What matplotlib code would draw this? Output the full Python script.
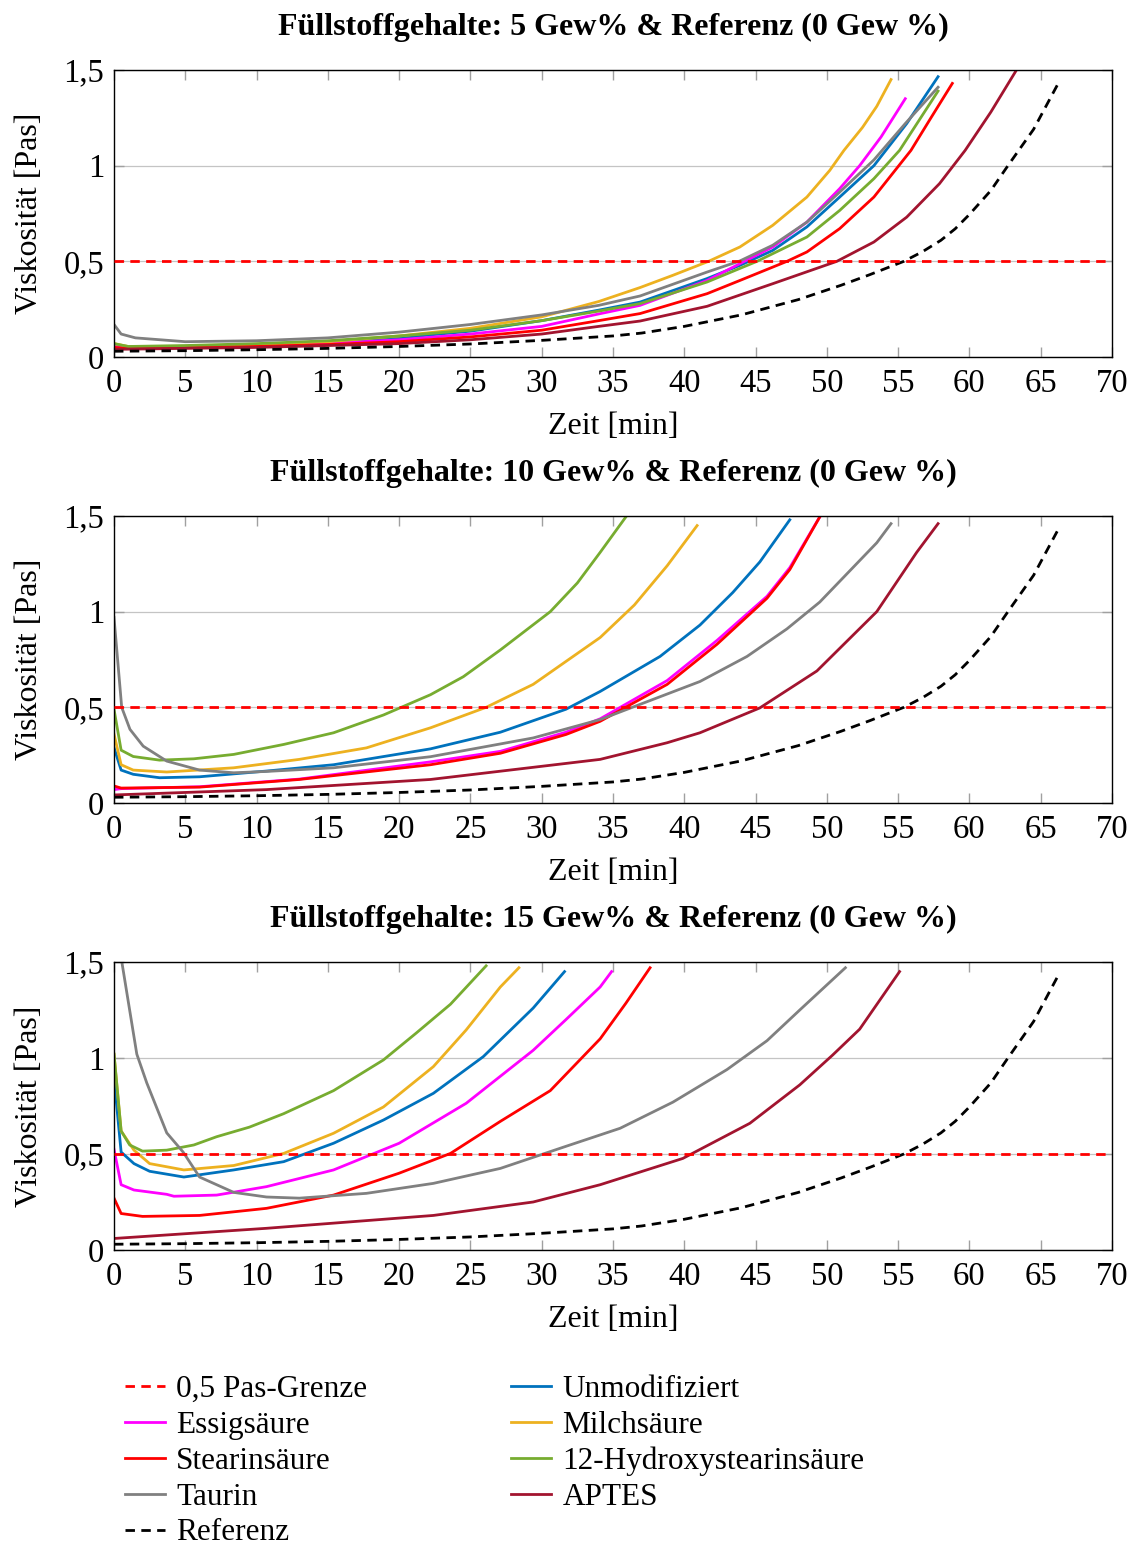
import matplotlib
matplotlib.use("Agg")
import matplotlib.pyplot as plt
from matplotlib.lines import Line2D

plt.rcParams['font.family'] = ['Liberation Serif', 'DejaVu Serif']

# ---- Data (Zeit [min], Viskosität [Pas]) ----
limit_value = 0.5

ref = [(0, 0.03), (5, 0.033), (10, 0.038), (15, 0.045), (20, 0.055), (25, 0.068),
       (30, 0.087), (35, 0.11), (37, 0.125), (40, 0.16), (42, 0.19), (44, 0.22),
       (46, 0.26), (48, 0.3), (51, 0.375), (53, 0.43), (55.4, 0.5), (56.7, 0.55),
       (58, 0.61), (59, 0.67), (60, 0.745), (61.5, 0.87), (62.7, 1.0), (64.5, 1.19),
       (66.3, 1.44)]

# 5 Gew%
p5_unmod = [(0, 0.06), (1, 0.05), (5, 0.055), (10, 0.065), (15, 0.075), (20, 0.1),
            (25, 0.135), (30, 0.19), (34, 0.245), (36.9, 0.287), (41.6, 0.41), (43.9, 0.479),
            (46.2, 0.557), (48.6, 0.68), (50.9, 0.836), (53.3, 1.0), (55.6, 1.22), (57.8, 1.465)]
p5_essig = [(0, 0.06), (1, 0.05), (5, 0.05), (10, 0.06), (15, 0.07), (20, 0.09),
            (25, 0.12), (30, 0.16), (34, 0.225), (36.9, 0.27), (41.6, 0.4), (43.9, 0.488),
            (46.2, 0.575), (48.6, 0.705), (50.9, 0.88), (52.3, 1.0), (53.8, 1.15), (55.5, 1.35)]
p5_milch = [(0, 0.07), (1, 0.055), (5, 0.055), (10, 0.065), (15, 0.08), (20, 0.11),
            (25, 0.15), (30, 0.21), (34, 0.29), (36.9, 0.363), (39.2, 0.427), (41.7, 0.5),
            (43.9, 0.575), (46.2, 0.688), (48.6, 0.836), (50.2, 0.975), (51.2, 1.08),
            (52.5, 1.2), (53.5, 1.31), (54.5, 1.45)]
p5_stearin = [(0, 0.05), (1, 0.045), (5, 0.05), (10, 0.055), (15, 0.065), (20, 0.08),
              (25, 0.105), (30, 0.14), (34, 0.19), (36.9, 0.227), (41.6, 0.331), (43.9, 0.4),
              (47.2, 0.5), (48.6, 0.549), (50.9, 0.671), (53.3, 0.836), (55.9, 1.08),
              (57.3, 1.25), (58.8, 1.43)]
p5_hydroxy = [(0, 0.07), (1, 0.055), (5, 0.06), (10, 0.07), (15, 0.085), (20, 0.11),
              (25, 0.14), (30, 0.19), (34, 0.24), (36.9, 0.279), (41.6, 0.392), (45.1, 0.5),
              (48.6, 0.627), (50.9, 0.766), (53.3, 0.932), (55.1, 1.08), (57.8, 1.39)]
p5_taurin = [(0, 0.17), (0.5, 0.12), (1.5, 0.1), (5, 0.08), (10, 0.085), (15, 0.1),
             (20, 0.13), (25, 0.17), (30, 0.22), (34, 0.27), (36.9, 0.319), (41.6, 0.444),
             (43.9, 0.502), (46.2, 0.584), (48.6, 0.705), (50.9, 0.862), (53.3, 1.03),
             (55.5, 1.22), (57.8, 1.41)]
p5_aptes = [(0, 0.04), (5, 0.045), (10, 0.05), (15, 0.06), (20, 0.07), (25, 0.09),
            (30, 0.12), (34, 0.16), (36.9, 0.188), (41.6, 0.265), (46.2, 0.383), (50.7, 0.5),
            (53.3, 0.601), (55.6, 0.731), (57.9, 0.906), (59.7, 1.08), (61.5, 1.28), (63.3, 1.5)]

# 10 Gew%
p10_unmod = [(0, 0.29), (0.5, 0.172), (1.35, 0.15), (3.2, 0.132), (6, 0.137), (10.7, 0.167),
             (15.4, 0.2), (22.2, 0.283), (27.1, 0.37), (31.7, 0.49), (34.1, 0.583),
             (38.3, 0.766), (41.1, 0.93), (43.4, 1.1), (45.3, 1.26), (47.4, 1.48)]
p10_essig = [(0, 0.07), (0.5, 0.075), (6, 0.085), (13, 0.125), (22.2, 0.215), (27.1, 0.27),
             (31.7, 0.37), (34.1, 0.44), (38.8, 0.64), (42.3, 0.85), (45.8, 1.08),
             (47.4, 1.23), (49.5, 1.495)]
p10_milch = [(0, 0.36), (0.5, 0.2), (1.35, 0.172), (3.7, 0.162), (8.4, 0.184), (13, 0.228),
             (17.7, 0.288), (22.2, 0.393), (26.1, 0.5), (29.4, 0.62), (34.1, 0.865),
             (36.5, 1.035), (38.8, 1.24), (40.9, 1.45)]
p10_stearin = [(0, 0.089), (0.5, 0.078), (6, 0.083), (13, 0.123), (22.2, 0.2), (27.1, 0.26),
               (31.7, 0.358), (34.1, 0.427), (38.8, 0.62), (42.3, 0.83), (45.8, 1.07),
               (47.4, 1.22), (49.5, 1.495)]
p10_hydroxy = [(0, 0.49), (0.5, 0.276), (1.35, 0.243), (3.2, 0.224), (5.6, 0.231), (8.4, 0.254),
               (11.9, 0.306), (15.4, 0.367), (18.9, 0.46), (22.2, 0.566), (24.5, 0.66),
               (27.1, 0.8), (30.6, 1.0), (32.5, 1.15), (34.1, 1.31), (35.9, 1.495)]
p10_taurin = [(0, 0.97), (0.54, 0.5), (1.12, 0.385), (2.05, 0.297), (3.7, 0.219), (6, 0.172),
              (8.4, 0.158), (10.7, 0.165), (15.4, 0.184), (22.2, 0.242), (29.4, 0.34),
              (34.1, 0.436), (41.1, 0.635), (44.4, 0.766), (47.2, 0.91), (49.5, 1.05),
              (53.5, 1.36), (54.5, 1.46)]
p10_aptes = [(0, 0.042), (10.7, 0.07), (22.2, 0.123), (34.1, 0.228), (38.8, 0.315),
             (41.1, 0.367), (45.3, 0.497), (49.3, 0.69), (53.5, 1.0), (56.3, 1.31), (57.8, 1.46)]

# 15 Gew%
p15_unmod = [(0, 0.9), (0.5, 0.51), (1.4, 0.45), (2.5, 0.41), (4.9, 0.38), (8.4, 0.417),
             (11.9, 0.46), (15.4, 0.556), (18.9, 0.677), (22.4, 0.816), (25.9, 1.007),
             (29.4, 1.26), (31.6, 1.45)]
p15_essig = [(0, 0.524), (0.5, 0.34), (1.4, 0.3125), (3.7, 0.29), (4.2, 0.28), (7.2, 0.286),
             (10.7, 0.33), (15.4, 0.417), (20, 0.556), (24.7, 0.764), (29.4, 1.04),
             (31.7, 1.2), (34.1, 1.37), (34.9, 1.45)]
p15_milch = [(0, 1.02), (0.5, 0.62), (1.4, 0.52), (2.5, 0.45), (4.9, 0.417), (8.4, 0.44),
             (11.9, 0.503), (15.4, 0.608), (18.9, 0.745), (22.4, 0.955), (24.7, 1.146),
             (27.1, 1.37), (28.4, 1.47)]
p15_stearin = [(0, 0.27), (0.5, 0.19), (2, 0.175), (6, 0.18), (10.7, 0.217), (15.4, 0.286),
               (20, 0.4), (23.6, 0.503), (27.1, 0.67), (30.6, 0.83), (34.1, 1.1),
               (35.9, 1.285), (37.6, 1.47)]
p15_hydroxy = [(0, 1.02), (0.5, 0.62), (1.1, 0.547), (2, 0.515), (3.7, 0.52), (5.6, 0.547),
               (7.2, 0.59), (9.5, 0.64), (11.9, 0.71), (15.4, 0.83), (18.9, 0.99),
               (21.2, 1.13), (23.6, 1.28), (26.1, 1.48)]
p15_taurin = [(0.55, 1.5), (1.6, 1.02), (2.3, 0.87), (3.7, 0.61), (4.85, 0.51), (6, 0.38),
              (8.4, 0.3), (10.7, 0.276), (13, 0.27), (17.7, 0.295), (22.4, 0.347),
              (27.1, 0.425), (31.7, 0.54), (35.5, 0.634), (39.2, 0.77), (43, 0.94),
              (45.8, 1.09), (48.1, 1.25), (51.3, 1.47)]
p15_aptes = [(0, 0.06), (10.7, 0.113), (22.4, 0.18), (29.4, 0.25), (34.1, 0.34), (39.9, 0.477),
             (44.6, 0.66), (48.1, 0.86), (50.4, 1.015), (52.3, 1.15), (55.1, 1.45)]

series_names = ['Unmodifiziert', 'Essigsäure', 'Milchsäure', 'Stearinsäure',
                '12-Hydroxystearinsäure', 'Taurin', 'APTES']
series_colors = ['#0072BD', '#FF00FF', '#EDB120', '#FF0000', '#77AC30', '#808080', '#A2142F']

panels = [
    ('5', [p5_unmod, p5_essig, p5_milch, p5_stearin, p5_hydroxy, p5_taurin, p5_aptes]),
    ('10', [p10_unmod, p10_essig, p10_milch, p10_stearin, p10_hydroxy, p10_taurin, p10_aptes]),
    ('15', [p15_unmod, p15_essig, p15_milch, p15_stearin, p15_hydroxy, p15_taurin, p15_aptes]),
]

x_ticks = [0, 5, 10, 15, 20, 25, 30, 35, 40, 45, 50, 55, 60, 65, 70]
y_ticks = [0, 0.5, 1, 1.5]
y_tick_labels = ['0', '0,5', '1', '1,5']

font_size_title = 23
font_size_axis = 23
font_size_tick = 23.5
font_size_legend = 22.5

dash = (0, (3.4, 2.3))
lw = 2.0

W, H = 1138, 1553
fig = plt.figure(figsize=(W / 100, H / 100), dpi=100)

# axes boxes in pixels: (top, bottom)
boxes = [(70, 357), (516, 803), (962, 1250)]
left_px, right_px = 114, 1112

for (content, data), (top, bottom) in zip(panels, boxes):
    ax = fig.add_axes([left_px / W, 1 - bottom / H, (right_px - left_px) / W, (bottom - top) / H])

    ax.axhline(limit_value, color='#FF0000', lw=lw, ls=dash, zorder=3)
    for pts, color in zip(data, series_colors):
        t = [p[0] for p in pts]
        v = [p[1] for p in pts]
        ax.plot(t, v, color=color, lw=lw, zorder=2)
    ax.plot([p[0] for p in ref], [p[1] for p in ref], color='black', lw=lw, ls=dash, zorder=2)

    ax.set_xlim(0, 70)
    ax.set_ylim(0, 1.5)
    ax.set_xticks(x_ticks)
    ax.set_yticks(y_ticks)
    ax.set_yticklabels(y_tick_labels)
    ax.grid(axis='y', color='#c4c4c4', lw=0.9, zorder=0)
    ax.set_axisbelow(True)
    ax.tick_params(axis='both', direction='in', length=7, width=1, color='#a0a0a0',
                   top=True, right=True, labelsize=font_size_tick)
    ax.tick_params(axis='x', pad=8.5)
    ax.tick_params(axis='y', pad=7)
    for sp in ax.spines.values():
        sp.set_linewidth(1.0)

    ax.set_title("Füllstoffgehalte: %s Gew%% & Referenz (0 Gew %%)" % content,
                 fontsize=font_size_title, fontweight='bold', pad=25)
    ax.set_xlabel("Zeit [min]", fontsize=font_size_axis, labelpad=9)
    ax.set_ylabel("Viskosität [Pas]", fontsize=font_size_axis, labelpad=14)

# Legend (column-major order as in reference)
h = lambda c, ls='-': Line2D([], [], color=c, lw=lw, ls=ls)
handles = [h('#FF0000', dash), h(series_colors[1]), h(series_colors[3]), h(series_colors[5]),
           h('black', dash),
           h(series_colors[0]), h(series_colors[2]), h(series_colors[4]), h(series_colors[6])]
labels = ['0,5 Pas-Grenze', series_names[1], series_names[3], series_names[5], 'Referenz',
          series_names[0], series_names[2], series_names[4], series_names[6]]
fig.legend(handles, labels, loc='upper left', bbox_to_anchor=(125 / W, 1 - 1375 / H),
           ncol=2, frameon=False, fontsize=font_size_legend, handlelength=1.28,
           handletextpad=0.36, labelspacing=0.22, columnspacing=4.6, borderaxespad=0,
           borderpad=0)

fig.savefig('out.png', dpi=100)
